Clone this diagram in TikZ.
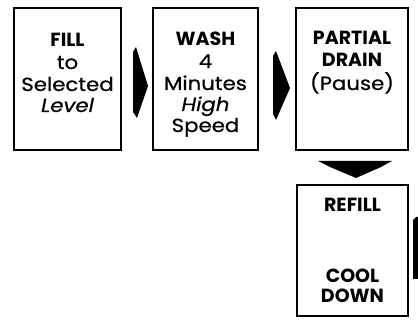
\documentclass[tikz,border=0pt]{standalone}
\usepackage{fontspec}
\setmainfont{Poppins}
\newfontfamily\regfont[FakeStretch=1.12,FakeBold=0.6]{Poppins}
\begin{document}
\begin{tikzpicture}[x=1pt,y=-1pt,
  stage/.style={draw=black,line width=2.6pt,fill=white},
  txt/.style={font=\fontsize{19}{22}\regfont,inner sep=0pt,anchor=base},
  btxt/.style={txt,font=\fontsize{19}{22}\selectfont\bfseries},
  itxt/.style={txt,font=\fontsize{19}{22}\regfont\itshape},
  arr/.style={fill=black,draw=none}]
\useasboundingbox (0,0) rectangle (418,320);
% boxes
\draw[stage] (14,8) rectangle (121,150);
\draw[stage] (153,8) rectangle (258,150);
\draw[stage] (296,8) rectangle (408,150);
\draw[stage] (297,185) rectangle (408,316);
% box 1 text
\node[btxt] (t11) at (67.5,47) {FILL};
\node[txt] (t12) at (67.5,69) {to};
\node[txt] (t13) at (67.5,91) {Selected};
\node[itxt] (t14) at (67.5,112) {Level};
% box 2
\node[btxt] (t21) at (205.5,46) {WASH};
\node[txt] (t22) at (205.5,68) {4};
\node[txt] (t23) at (205.5,90) {Minutes};
\node[itxt] (t24) at (205.5,111) {High};
\node[txt] (t25) at (205.5,132) {Speed};
% box 3
\node[btxt] (t31) at (352,45) {PARTIAL};
\node[btxt] (t32) at (352,67) {DRAIN};
\node[txt] (t33) at (352,90) {(Pause)};
% box 4
\node[btxt] (t41) at (352.5,212) {REFILL};
\node[btxt] (t42) at (352.5,283) {COOL};
\node[btxt] (t43) at (352.5,303) {DOWN};
% arrows
\fill[arr] (133,52) -- (136,47) -- (148,86) -- (137,118) -- (133,112) -- cycle;
\fill[arr] (273,56) -- (276,51) -- (290,88) -- (276,120) -- (273,114) -- cycle;
\fill[arr] (318,161) -- (392,161) -- (381,167) -- (356,178) -- (330,167) -- cycle;
\fill[arr] (413,220) -- (416,217) -- (418,217) -- (418,279) -- (413,279) -- cycle;
\end{tikzpicture}
\end{document}
